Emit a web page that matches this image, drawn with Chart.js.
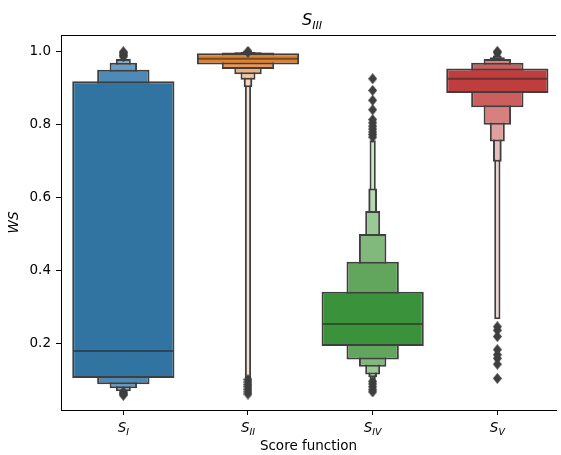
<!DOCTYPE html>
<html>
<head>
<meta charset="utf-8">
<script src="https://cdn.jsdelivr.net/npm/chart.js@4"></script>
<style>
  html, body { margin: 0; padding: 0; background: #fff; overflow: hidden; }
</style>
</head>
<body>
<canvas id="myChart" width="561" height="455"></canvas>
<script>
// subscripts of the score functions S_I, S_II, ...
const categories = ['I', 'II', 'IV', 'V']
const yTicks = [0.2, 0.4, 0.6, 0.8, 1.0]

// letter-value boxes, [low, high] for each category, widest level first
const level1 = [[0.104, 0.918], [0.964, 0.995], [0.192, 0.341], [0.886, 0.953]]
const level2 = [[0.087, 0.950], [0.952, 0.997], [0.155, 0.423], [0.847, 0.969]]
const level3 = [[0.076, 0.969], [0.937, 0.998], [0.135, 0.499], [0.799, 0.979]]
const level4 = [[0.068, 0.979], [0.922, 0.999], [0.114, 0.562], [0.753, 0.984]]
const level5 = [null, [0.902, 0.999], [0.106, 0.624], [0.697, 0.989]]
const level6 = [null, [0.104, 1.0], [0.099, 0.756], [0.265, 0.993]]

const medians = [0.178, 0.980, 0.252, 0.925]

const outliersI = [0.985, 0.989, 0.993, 0.996, 0.999, 0.066, 0.063, 0.060, 0.057]
const outliersII = [0.998, 1.0, 0.100, 0.093, 0.086, 0.080, 0.073, 0.066, 0.060]
const outliersIV = [0.765, 0.772, 0.779, 0.787, 0.795, 0.804, 0.813, 0.840, 0.866, 0.893, 0.925,
  0.095, 0.088, 0.080, 0.072, 0.066]
const outliersV = [0.996, 1.0, 0.245, 0.235, 0.218, 0.182, 0.168, 0.158, 0.142, 0.103]

const levels = [level1, level2, level3, level4, level5, level6]
const outliers = [outliersI, outliersII, outliersIV, outliersV]

// styles
const levelWidths = [0.82, 0.42, 0.22, 0.12, 0.07, 0.05]
const shades = [
  ['#3274a1', '#4f89b5', '#6a9cc4', '#86afd0'],
  ['#e1812c', '#e8995a', '#eeb07f', '#f2c4a0', '#f5d4ba', '#f8e3d2'],
  ['#3a923a', '#62a65e', '#80b97b', '#9bc996', '#b5d8b0', '#cde6c9'],
  ['#c03d3e', '#cc5e5e', '#d6807f', '#e0a0a0', '#e8bcbc', '#efd2d2']
]
const edge = '#3f3f3f'
const font = '"DejaVu Sans", sans-serif'

// thin diamond marker like matplotlib's 'd'
const diamond = document.createElement('canvas')
diamond.width = 9
diamond.height = 11
{
  const c = diamond.getContext('2d')
  c.fillStyle = edge
  c.beginPath()
  c.moveTo(4.5, 0)
  c.lineTo(9, 5.5)
  c.lineTo(4.5, 11)
  c.lineTo(0, 5.5)
  c.closePath()
  c.fill()
}

const datasets = []

levels.forEach((lv, k) => {
  const data = []
  const colors = []
  lv.forEach((r, i) => {
    if (!r) return
    data.push({ x: i, y: r })
    colors.push(shades[i][k])
  })
  datasets.push({
    type: 'bar',
    data: data,
    backgroundColor: colors,
    borderColor: edge,
    borderWidth: 2,
    borderSkipped: false,
    barPercentage: levelWidths[k],
    categoryPercentage: 1,
    grouped: false,
    order: k + 1
  })
})

const medianPoints = []
medians.forEach((m, i) => {
  medianPoints.push({ x: i - 0.4, y: m }, { x: i + 0.4, y: m }, { x: i, y: null })
})
datasets.push({
  type: 'line',
  data: medianPoints,
  borderColor: 'rgba(40,40,40,0.6)',
  borderWidth: 2,
  pointRadius: 0,
  spanGaps: false,
  order: 0
})

const outlierPoints = []
outliers.forEach((vals, i) => vals.forEach(v => outlierPoints.push({ x: i, y: v })))
datasets.push({
  type: 'scatter',
  data: outlierPoints,
  pointStyle: diamond,
  pointRadius: 4,
  order: 0
})

function mathLabel(ctx, x, y, sub, size) {
  ctx.font = `italic ${size}px ${font}`
  const w1 = ctx.measureText('S').width
  ctx.font = `italic ${size * 0.7}px ${font}`
  const w2 = ctx.measureText(sub).width
  const x0 = x - (w1 + w2) / 2
  ctx.textAlign = 'left'
  ctx.textBaseline = 'alphabetic'
  ctx.fillStyle = '#000'
  ctx.font = `italic ${size}px ${font}`
  ctx.fillText('S', x0, y)
  ctx.font = `italic ${size * 0.7}px ${font}`
  ctx.fillText(sub, x0 + w1, y + size * 0.22)
}

const labelsPlugin = {
  id: 'labels',
  afterDraw(chart) {
    const ctx = chart.ctx
    const area = chart.chartArea
    const xs = chart.scales.x
    ctx.save()
    // top spine
    ctx.strokeStyle = '#000'
    ctx.lineWidth = 1
    ctx.beginPath()
    ctx.moveTo(area.left, area.top + 0.5)
    ctx.lineTo(area.right, area.top + 0.5)
    ctx.stroke()
    // title and category labels
    mathLabel(ctx, 312, 25, 'III', 16)
    categories.forEach((c, i) => mathLabel(ctx, xs.getPixelForValue(i), 432, c, 13.5))
    ctx.restore()
  }
}

const config = {
  type: 'bar',
  data: { datasets: datasets },
  options: {
    responsive: false,
    animation: false,
    devicePixelRatio: 1,
    layout: { padding: { top: 35, left: 0, right: 0, bottom: 0 } },
    plugins: { legend: { display: false }, tooltip: { enabled: false } },
    scales: {
      x: {
        type: 'linear',
        min: -0.5,
        max: 3.4706,
        offset: false,
        grid: { display: true, offset: false, drawOnChartArea: false, drawTicks: true, tickLength: 5, tickColor: '#000' },
        border: { display: true, color: '#000', width: 1 },
        afterBuildTicks: s => { s.ticks = categories.map((c, i) => ({ value: i })) },
        afterFit: s => { s.height = 45 },
        ticks: { callback: () => '', font: { family: font, size: 13 } },
        title: { display: true, text: 'Score function', color: '#000', font: { family: font, size: 13.5 }, padding: { top: 0, bottom: 0 } }
      },
      y: {
        type: 'linear',
        min: 0.0164,
        max: 1.045,
        beginAtZero: false,
        grid: { display: true, drawOnChartArea: false, drawTicks: true, tickLength: 5, tickColor: '#000' },
        border: { display: true, color: '#000', width: 1 },
        afterBuildTicks: s => { s.ticks = yTicks.map(v => ({ value: v })) },
        afterFit: s => { s.width = 61 },
        ticks: { color: '#000', padding: 5, font: { family: font, size: 13.5 }, callback: v => v.toFixed(1) },
        title: { display: true, text: 'WS', color: '#000', font: { family: font, size: 13.5, style: 'italic' }, padding: { top: 6, bottom: 0 } }
      }
    }
  },
  plugins: [labelsPlugin]
}

const myChart = new Chart(document.getElementById('myChart'), config)
</script>
</body>
</html>
